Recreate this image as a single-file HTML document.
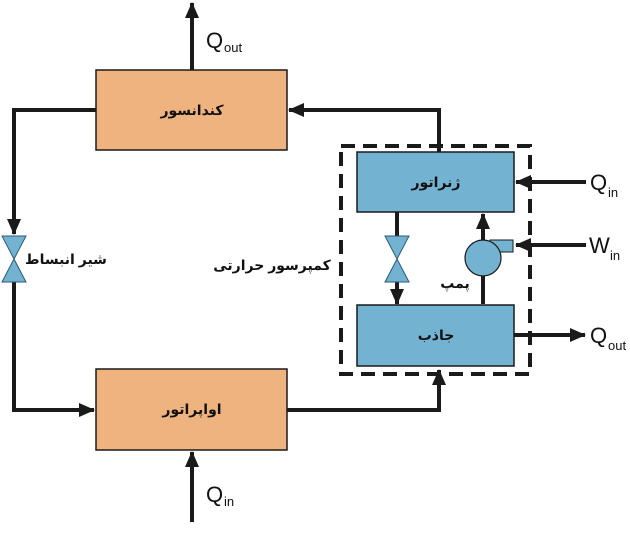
<!DOCTYPE html>
<html><head><meta charset="utf-8"><style>
html,body{margin:0;padding:0;background:#fff;width:630px;height:558px;overflow:hidden}
svg{display:block}
.fa{font-family:"Liberation Sans","DejaVu Sans","Noto Sans CJK SC",sans-serif;font-weight:bold;font-size:14px;fill:#111}
.q{font-family:"Liberation Sans",sans-serif;font-size:22px;fill:#111}
.s{font-family:"Liberation Sans",sans-serif;font-size:13px;fill:#111}
</style></head><body>
<svg width="630" height="558" viewBox="0 0 630 558" xmlns="http://www.w3.org/2000/svg">
<defs><marker id="a" markerWidth="10" markerHeight="10" refX="9" refY="5" orient="auto" markerUnits="userSpaceOnUse"><path d="M0,0 L10,5 L0,10Z" fill="#1a1a1a"/></marker>
<marker id="b" markerWidth="16" markerHeight="14" refX="15" refY="7" orient="auto" markerUnits="userSpaceOnUse"><path d="M0,0 L16,7 L0,14Z" fill="#1a1a1a"/></marker></defs>
<g stroke="#1a1a1a" stroke-width="4" fill="none">
<!-- dashed box -->
<rect x="341" y="146" width="189" height="228" stroke-dasharray="14,8"/>
<!-- Qout top -->
<line x1="192" y1="70" x2="192" y2="3" marker-end="url(#b)"/>
<!-- generator to condenser -->
<polyline points="439,152 439,110 289,110" marker-end="url(#b)"/>
<!-- condenser to valve -->
<polyline points="96,110 14,110 14,234" marker-end="url(#b)"/>
<!-- valve to evaporator -->
<polyline points="14,282 14,410 94,410" marker-end="url(#b)"/>
<!-- evaporator to absorber -->
<polyline points="287,410 439,410 439,370" marker-end="url(#b)"/>
<!-- Qin bottom -->
<line x1="192" y1="522" x2="192" y2="452" marker-end="url(#b)"/>
<!-- inner -->
<line x1="397" y1="212" x2="397" y2="236"/>
<line x1="397" y1="282" x2="397" y2="304" marker-end="url(#b)"/>
<line x1="483" y1="304" x2="483" y2="276"/>
<line x1="483" y1="240" x2="483" y2="214" marker-end="url(#b)"/>
<!-- right arrows -->
<line x1="586" y1="182" x2="516" y2="182" marker-end="url(#b)"/>
<line x1="586" y1="245" x2="516" y2="245" marker-end="url(#b)"/>
<line x1="514" y1="335" x2="585" y2="335" marker-end="url(#b)"/>
</g>
<rect x="96" y="70" width="191" height="80" fill="#efb37f" stroke="#1a1a1a" stroke-width="1.5"/>
<rect x="96" y="369" width="191" height="81" fill="#efb37f" stroke="#1a1a1a" stroke-width="1.5"/>
<rect x="357" y="152" width="157" height="60" fill="#74b2d1" stroke="#1a1a1a" stroke-width="1.5"/>
<rect x="357" y="305" width="157" height="61" fill="#74b2d1" stroke="#1a1a1a" stroke-width="1.5"/>
<!-- valves -->
<g fill="#74b2d1" stroke="#2a5a78" stroke-width="1">
<path d="M2,236 L26,236 L14,259Z M2,282 L26,282 L14,259Z"/>
<path d="M385,236 L409,236 L397,259Z M385,282 L409,282 L397,259Z"/>
<rect x="490" y="240" width="23" height="12" stroke="#1a1a1a"/>
<circle cx="483" cy="258" r="18" stroke="#1a1a1a" stroke-width="1.2"/>
</g>
<text class="fa" x="192" y="115" text-anchor="middle" direction="rtl">کندانسور</text>
<text class="fa" x="192" y="414" text-anchor="middle" direction="rtl">اواپراتور</text>
<text class="fa" x="436" y="187" text-anchor="middle" direction="rtl">ژنراتور</text>
<text class="fa" x="436" y="340" text-anchor="middle" direction="rtl">جاذب</text>
<text class="fa" x="455" y="288" text-anchor="middle" direction="rtl">پمپ</text>
<text class="fa" x="66" y="264" text-anchor="middle" direction="rtl">شیر انبساط</text>
<text class="fa" x="272" y="270" text-anchor="middle" direction="rtl">کمپرسور حرارتی</text>
<text class="q" x="206" y="48">Q</text><text class="s" x="224" y="52">out</text>
<text class="q" x="206" y="502">Q</text><text class="s" x="224" y="506">in</text>
<text class="q" x="590" y="190">Q</text><text class="s" x="608" y="197">in</text>
<text class="q" x="589" y="253">W</text><text class="s" x="610" y="260">in</text>
<text class="q" x="590" y="343">Q</text><text class="s" x="608" y="350">out</text>
</svg>
</body></html>
